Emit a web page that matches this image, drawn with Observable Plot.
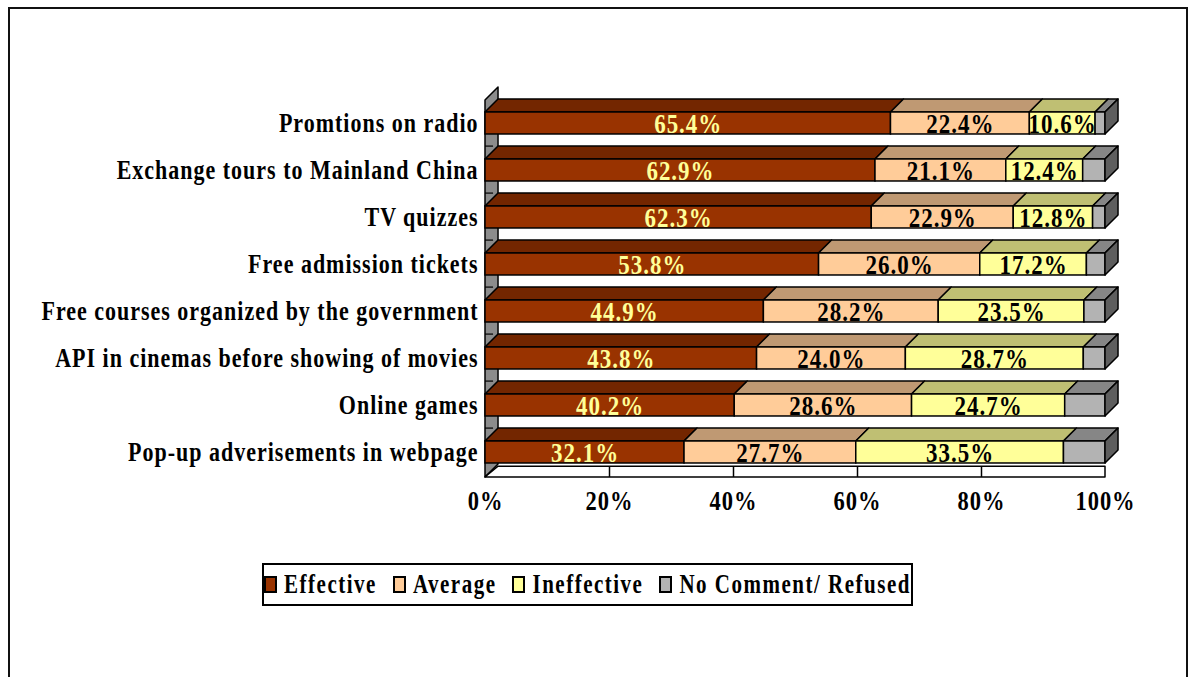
<!DOCTYPE html>
<html><head><meta charset="utf-8">
<script src="https://cdn.jsdelivr.net/npm/d3@7"></script>
<script src="https://cdn.jsdelivr.net/npm/@observablehq/plot@0.6"></script>
<style>
html,body{margin:0;padding:0;background:#fff;width:1191px;height:677px;overflow:hidden;}
#frame{position:absolute;left:8px;top:7px;width:1176px;height:720px;border:2px solid #111;box-sizing:content-box;}
#chart{position:absolute;left:0;top:0;}
#chart g[aria-label="category"] text{letter-spacing:1.25px;}
#legend{position:absolute;left:262px;top:563px;width:647px;height:39px;border:2px solid #000;background:#fff;
  display:flex;align-items:center;justify-content:center;gap:16px;
  font-family:"Liberation Serif","Times New Roman",serif;font-weight:bold;font-size:21px;letter-spacing:1.5px;color:#000;}
#legend .item{display:flex;align-items:center;}
#legend .sw{display:inline-block;width:9px;height:13px;border:2px solid #000;margin-right:7px;}
#legend .lab{display:inline-block;transform:scaleY(1.3);white-space:pre;}
</style>
</head><body>
<div id="frame"></div>
<div id="chart"></div>
<div id="legend"></div>
<script>
const categories = [
  "Promtions on radio",
  "Exchange tours to Mainland China",
  "TV quizzes",
  "Free admission tickets",
  "Free courses organized by the government",
  "API in cinemas before showing of movies",
  "Online games",
  "Pop-up adverisements in webpage"
];
const effective   = [65.4, 62.9, 62.3, 53.8, 44.9, 43.8, 40.2, 32.1];
const average     = [22.4, 21.1, 22.9, 26.0, 28.2, 24.0, 28.6, 27.7];
const ineffective = [10.6, 12.4, 12.8, 17.2, 23.5, 28.7, 24.7, 33.5];
const noComment   = [1.6, 3.6, 2.0, 3.0, 3.4, 3.5, 6.5, 6.7];
const seriesNames = ["Effective", "Average", "Ineffective", "No Comment/ Refused"];
const frontColors = ["#993300", "#FFCC99", "#FFFF99", "#B3B3B3"];
const topColors   = ["#732600", "#BF9973", "#BFBF73", "#868686"];
const sideColor   = "#5E5E5E";
const labelColors = ["#FFFF99", "#000000", "#000000", null];
const xTicks = [0, 20, 40, 60, 80, 100];

const DX = 2.1;    // 3D depth in x (percent units)
const DY = 0.277;  // 3D depth in y (row units)
const F1 = 0.255, F2 = 0.723; // front face band within a row
const FLOOR_FRONT = 8.02, FLOOR_BACK = 7.79;

const seriesData = [effective, average, ineffective, noComment];
const segs = [];
categories.forEach((c, i) => {
  let acc = 0;
  seriesData.forEach((arr, s) => {
    const v = arr[i];
    segs.push({row: i, cat: c, s, v, x1: acc, x2: acc + v});
    acc += v;
  });
});

const marks = [];
// back wall (left)
marks.push(Plot.areaY([{x: 0, y1: 0, y2: FLOOR_FRONT}, {x: DX, y1: -DY, y2: FLOOR_FRONT - DY}],
  {x: "x", y1: "y1", y2: "y2", fill: "#8C8C8C", stroke: "#000", strokeWidth: 1.5}));
// wall ticks
marks.push(Plot.ruleY(d3.range(1, 8), {y: d => d - 0.03, x1: 0, x2: 1.3, stroke: "#000", strokeWidth: 1.2}));
// floor
marks.push(Plot.areaX([{y: FLOOR_FRONT, x1: 0, x2: 100}, {y: FLOOR_BACK, x1: DX, x2: 100}],
  {y: "y", x1: "x1", x2: "x2", fill: "#fff", stroke: "#000", strokeWidth: 1.5}));
marks.push(Plot.ruleX(xTicks.slice(1, -1), {x: d => d, y1: FLOOR_BACK, y2: FLOOR_FRONT, stroke: "#000", strokeWidth: 1.5}));

// bars
seriesNames.forEach((name, s) => {
  const ss = segs.filter(d => d.s === s);
  const topPts = ss.flatMap(d => [
    {z: d.row, y: d.row + F1, x1: d.x1, x2: d.x2},
    {z: d.row, y: d.row + F1 - DY, x1: d.x1 + DX, x2: d.x2 + DX}
  ]);
  marks.push(Plot.areaX(topPts, {y: "y", x1: "x1", x2: "x2", z: "z", fill: topColors[s], stroke: "#000", strokeWidth: 1.5}));
  marks.push(Plot.rect(ss, {x1: "x1", x2: "x2", y1: d => d.row + F1, y2: d => d.row + F2,
    fill: frontColors[s], stroke: "#000", strokeWidth: 1.5}));
  if (s === seriesNames.length - 1) {
    const sidePts = ss.flatMap(d => [
      {z: d.row, x: d.x2, y1: d.row + F1, y2: d.row + F2},
      {z: d.row, x: d.x2 + DX, y1: d.row + F1 - DY, y2: d.row + F2 - DY}
    ]);
    marks.push(Plot.areaY(sidePts, {x: "x", y1: "y1", y2: "y2", z: "z", fill: sideColor, stroke: "#000", strokeWidth: 1.5}));
  }
});

// value labels
seriesNames.forEach((name, s) => {
  if (!labelColors[s]) return;
  marks.push(Plot.text(segs.filter(d => d.s === s), {
    x: d => (d.x1 + d.x2) / 2, y: d => d.row + 0.5,
    text: d => d.v.toFixed(1) + "%", fill: labelColors[s], fontSize: 23, ariaLabel: "value"
  }));
});
// category labels
marks.push(Plot.text(categories, {x: d => 0, y: (d, i) => i + 0.5, text: d => d,
  textAnchor: "end", dx: -7, fontSize: 22, fill: "#000", ariaLabel: "category"}));
// x tick labels
marks.push(Plot.text(xTicks, {x: d => d, y: d => 8.53, text: d => d + "%", fontSize: 22.5, fill: "#000", ariaLabel: "tick"}));

const svg = Plot.plot({
  width: 1191,
  height: 540,
  margin: 0,
  x: {domain: [0, 100], range: [485, 1105], axis: null},
  y: {domain: [0, 8], range: [100, 476], axis: null},
  style: "font-family: 'Liberation Serif','Times New Roman',serif; font-weight: bold; letter-spacing: 1px; background: transparent; overflow: visible;",
  marks
});
// stretch glyphs vertically like the original rendering
const stretch = {value: 1.3, category: 1.2, tick: 1.3};
svg.querySelectorAll("text").forEach(t => {
  const g = t.closest("g[aria-label]");
  const sy = (g && stretch[g.getAttribute("aria-label")]) || 1.2;
  let tr = t.getAttribute("transform") || "";
  for (const a of ["x", "y"]) {
    const v = t.getAttribute(a);
    if (v !== null && !/em$/.test(v)) {
      tr += a === "x" ? ` translate(${+v || 0},0)` : ` translate(0,${+v || 0})`;
      t.removeAttribute(a);
    }
  }
  t.setAttribute("transform", tr + ` scale(1,${sy})`);
});
document.getElementById("chart").appendChild(svg);

// legend
const legend = document.getElementById("legend");
seriesNames.forEach((name, s) => {
  const item = document.createElement("span");
  item.className = "item";
  const sw = document.createElement("span");
  sw.className = "sw";
  sw.style.background = frontColors[s];
  const lab = document.createElement("span");
  lab.className = "lab";
  lab.textContent = name;
  item.appendChild(sw); item.appendChild(lab);
  legend.appendChild(item);
});
</script>
</body></html>
